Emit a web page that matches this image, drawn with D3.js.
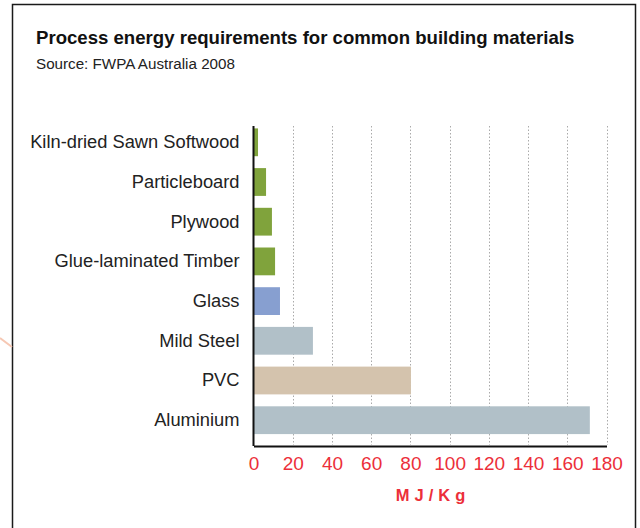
<!DOCTYPE html>
<html>
<head>
<meta charset="utf-8">
<script src="https://cdn.jsdelivr.net/npm/d3@7"></script>
<style>
  body { margin: 0; background: #fff; }
  svg { display: block; font-family: "Liberation Sans", Arial, sans-serif; }
</style>
</head>
<body>
<svg width="640" height="528"></svg>
<script>
var materials = ["Kiln-dried Sawn Softwood", "Particleboard", "Plywood", "Glue-laminated Timber",
                 "Glass", "Mild Steel", "PVC", "Aluminium"];
var energyValues = [2.3, 6.4, 9.4, 11, 13.5, 30.3, 80.3, 171.5];
var barColors = ["#80a33c", "#80a33c", "#80a33c", "#80a33c",
                 "#879fd0", "#b1c0c8", "#d4c3ad", "#b1c0c8"];
var xTicks = [0, 20, 40, 60, 80, 100, 120, 140, 160, 180];

var data = materials.map(function(m, i) {
  return { name: m, value: energyValues[i], color: barColors[i] };
});

var svg = d3.select("svg");
var red = "#ec2f3a";

// frame
svg.append("path")
  .attr("d", "M12.5,528 V4.5 H635.5 V528")
  .attr("fill", "none")
  .attr("stroke", "#1a1a1a")
  .attr("stroke-width", 1.5);
svg.append("line")
  .attr("x1", 0).attr("y1", 338).attr("x2", 12).attr("y2", 347)
  .attr("stroke", "#f6c8b4").attr("stroke-width", 2);

svg.append("text")
  .attr("x", 36).attr("y", 44)
  .attr("font-size", 18.6).attr("font-weight", "bold")
  .attr("fill", "#111")
  .text("Process energy requirements for common building materials");

svg.append("text")
  .attr("x", 36).attr("y", 69)
  .attr("font-size", 15.2)
  .attr("fill", "#222")
  .text("Source: FWPA Australia 2008");

var x = d3.scaleLinear()
  .domain([0, 180])
  .range([253.5, 606.5]);

var y = d3.scaleBand()
  .domain(materials)
  .range([116.5, 446])
  .paddingInner(0.3)
  .paddingOuter(0.3);

// dotted gridlines
svg.append("g")
  .selectAll("line")
  .data(xTicks.slice(1))
  .enter().append("line")
    .attr("x1", function(d) { return Math.round(x(d)) + 0.5; })
    .attr("x2", function(d) { return Math.round(x(d)) + 0.5; })
    .attr("y1", 126)
    .attr("y2", 445)
    .attr("stroke", "#aaa")
    .attr("stroke-width", 1)
    .attr("stroke-dasharray", "1.5,2");

svg.append("g")
  .selectAll("rect")
  .data(data)
  .enter().append("rect")
    .attr("x", x(0))
    .attr("y", function(d) { return y(d.name); })
    .attr("width", function(d) { return x(d.value) - x(0); })
    .attr("height", y.bandwidth())
    .attr("fill", function(d) { return d.color; });

// axes
var xAxis = svg.append("g")
  .attr("transform", "translate(0,446)")
  .call(d3.axisBottom(x).tickValues(xTicks).tickSize(0).tickPadding(10));
xAxis.select(".domain").attr("stroke", "#111").attr("stroke-width", 2);
xAxis.selectAll("text")
  .attr("fill", red)
  .attr("font-size", 19)
  .attr("font-family", "Liberation Sans, Arial, sans-serif")
  .attr("dy", "0.72em");

var yAxis = svg.append("g")
  .attr("transform", "translate(253.5,0)")
  .call(d3.axisLeft(y).tickSize(0).tickPadding(14));
yAxis.select(".domain")
  .attr("d", "M0,126V446")
  .attr("stroke", "#111").attr("stroke-width", 2);
yAxis.selectAll("text")
  .attr("fill", "#222")
  .attr("font-size", 18.3)
  .attr("font-family", "Liberation Sans, Arial, sans-serif");

svg.append("text")
  .attr("x", x(90) + 3)
  .attr("y", 501)
  .attr("text-anchor", "middle")
  .attr("font-size", 16.5)
  .attr("font-weight", "bold")
  .attr("fill", red)
  .style("letter-spacing", "5px")
  .text("MJ/Kg");
</script>
</body>
</html>
